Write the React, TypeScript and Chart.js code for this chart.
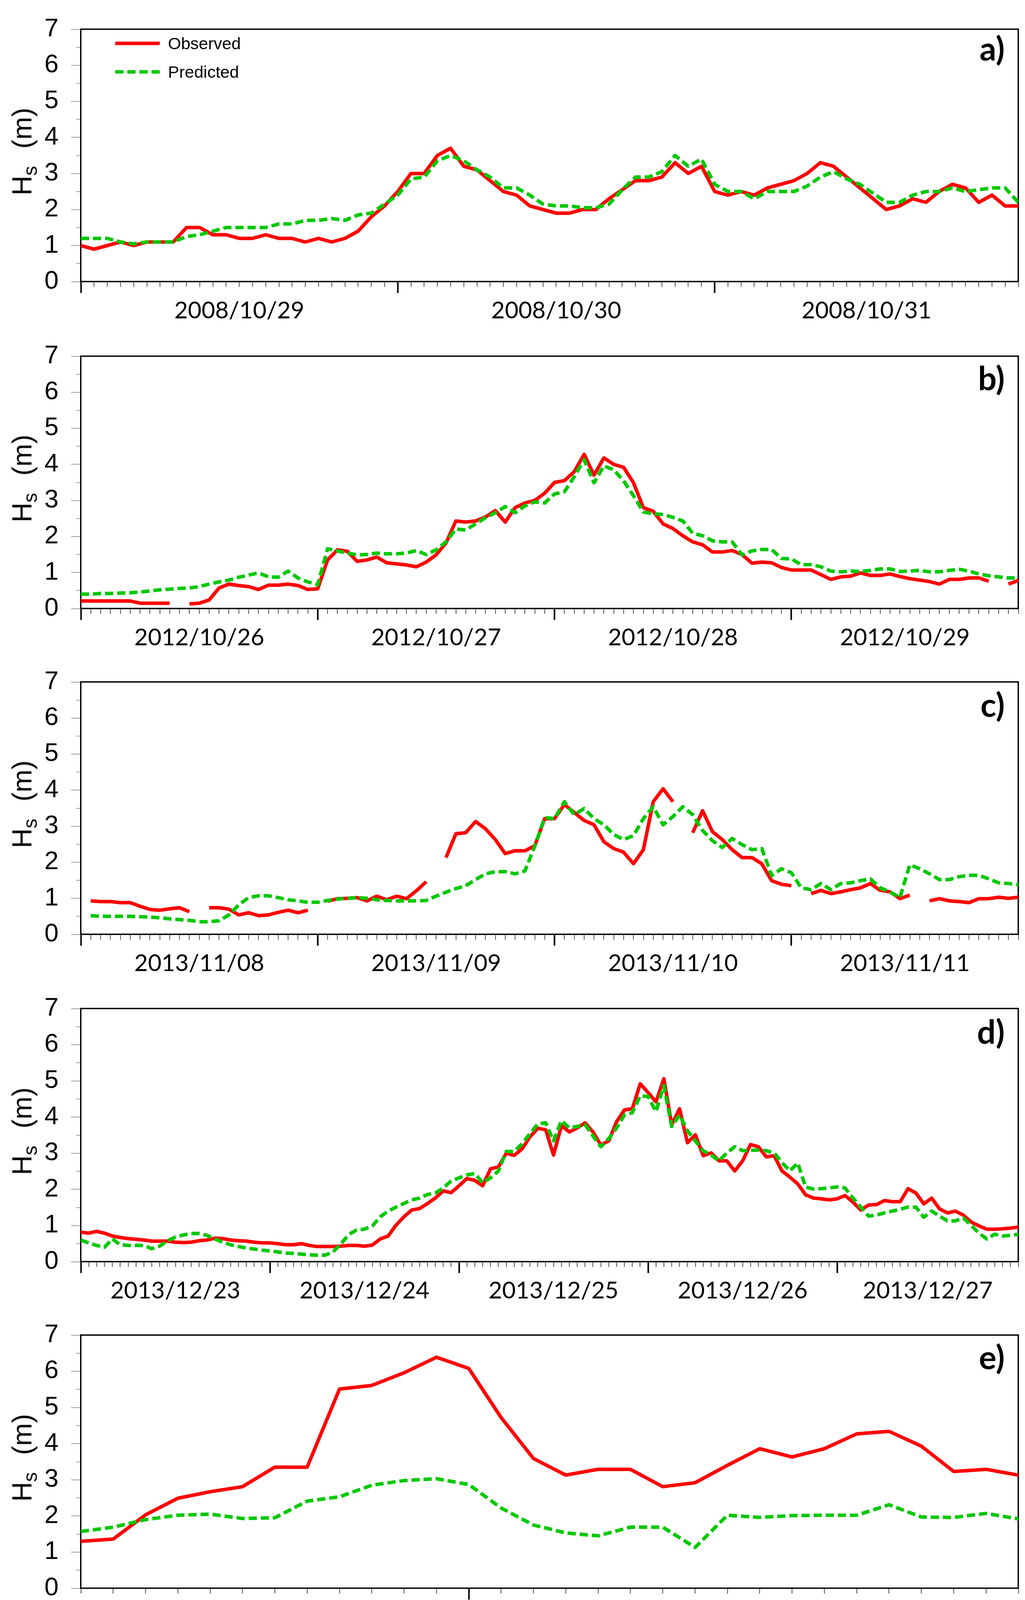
import React, { useEffect, useRef } from 'react';
import { Chart, registerables } from 'chart.js';

Chart.register(...registerables);

// ---------------- data (hourly Hs values, m) ----------------
// a) 2008/10/29 00:00 .. 2008/10/31 23:00
const obsA = [
  1.0, 0.9, 1.0, 1.1, 1.0, 1.1, 1.1, 1.1, 1.5, 1.5,
  1.3, 1.3, 1.2, 1.2, 1.3, 1.2, 1.2, 1.1, 1.2, 1.1,
  1.2, 1.4, 1.8, 2.1, 2.5, 3.0, 3.0, 3.5, 3.7, 3.2,
  3.1, 2.8, 2.5, 2.4, 2.1, 2.0, 1.9, 1.9, 2.0, 2.0,
  2.3, 2.55, 2.8, 2.8, 2.9, 3.3, 3.0, 3.2, 2.5, 2.4,
  2.5, 2.4, 2.6, 2.7, 2.8, 3.0, 3.3, 3.2, 2.9, 2.6,
  2.3, 2.0, 2.1, 2.3, 2.2, 2.5, 2.7, 2.6, 2.2, 2.4,
  2.1, 2.1,
];
const predA = [
  1.2, 1.2, 1.2, 1.1, 1.05, 1.1, 1.1, 1.1, 1.25, 1.3,
  1.4, 1.5, 1.5, 1.5, 1.5, 1.6, 1.6, 1.7, 1.7, 1.75,
  1.7, 1.85, 1.9, 2.15, 2.4, 2.85, 2.9, 3.35, 3.5, 3.35,
  3.1, 2.9, 2.6, 2.6, 2.4, 2.15, 2.1, 2.1, 2.05, 2.05,
  2.15, 2.55, 2.9, 2.9, 3.05, 3.5, 3.2, 3.4, 2.7, 2.5,
  2.5, 2.3, 2.5, 2.5, 2.5, 2.65, 2.9, 3.05, 2.85, 2.7,
  2.45, 2.2, 2.2, 2.4, 2.5, 2.5, 2.6, 2.5, 2.55, 2.6,
  2.6, 2.2,
];
const dayLabelsA = ['2008/10/29', '2008/10/30', '2008/10/31'];
const dayLabelPosA = [12, 36, 59.5];
const majorTicksA = [0, 24, 48];

// b) 2012/10/26 00:00 .. 2012/10/29 23:00
const obsB = [
  0.21, 0.21, 0.21, 0.21, 0.21, 0.21, 0.15, 0.15, 0.15, 0.15,
  null, 0.13, 0.15, 0.24, 0.57, 0.68, 0.64, 0.61, 0.53, 0.65,
  0.65, 0.68, 0.64, 0.53, 0.55, 1.35, 1.63, 1.59, 1.31, 1.35,
  1.43, 1.27, 1.24, 1.21, 1.16, 1.29, 1.49, 1.82, 2.43, 2.4,
  2.43, 2.54, 2.72, 2.4, 2.8, 2.93, 3.0, 3.2, 3.5, 3.55,
  3.8, 4.28, 3.7, 4.18, 4.0, 3.92, 3.49, 2.8, 2.7, 2.35,
  2.22, 2.02, 1.85, 1.77, 1.57, 1.57, 1.61, 1.5, 1.26, 1.29,
  1.27, 1.14, 1.07, 1.07, 1.07, 0.94, 0.81, 0.88, 0.9, 0.99,
  0.92, 0.92, 0.96, 0.89, 0.83, 0.79, 0.75, 0.68, 0.81, 0.81,
  0.85, 0.85, 0.76, null, 0.68, 0.78,
];
const predB = [
  0.4, 0.4, 0.42, 0.42, 0.43, 0.44, 0.46, 0.49, 0.52, 0.54,
  0.56, 0.57, 0.61, 0.68, 0.74, 0.79, 0.87, 0.93, 0.99, 0.88,
  0.87, 1.04, 0.85, 0.74, 0.66, 1.66, 1.6, 1.54, 1.49, 1.5,
  1.54, 1.52, 1.52, 1.54, 1.61, 1.5, 1.63, 1.85, 2.21, 2.18,
  2.35, 2.52, 2.66, 2.83, 2.66, 2.85, 2.96, 2.93, 3.18, 3.24,
  3.66, 4.13, 3.49, 3.96, 3.85, 3.54, 3.13, 2.68, 2.63, 2.61,
  2.53, 2.43, 2.09, 2.02, 1.88, 1.85, 1.85, 1.49, 1.6, 1.64,
  1.64, 1.39, 1.38, 1.22, 1.22, 1.16, 1.04, 1.02, 1.04, 1.03,
  1.06, 1.1, 1.1, 1.03, 1.04, 1.06, 1.02, 1.02, 1.06, 1.09,
  1.04, 0.96, 0.91, 0.88, 0.85, 0.85,
];
const dayLabelsB = ['2012/10/26', '2012/10/27', '2012/10/28', '2012/10/29'];
const dayLabelPosB = [12, 36, 60, 83.5];
const majorTicksB = [0, 24, 48, 72];

// c) 2013/11/08 00:00 .. 2013/11/11 23:00
const obsC = [
  null, 0.93, 0.91, 0.91, 0.88, 0.88, 0.78, 0.69, 0.67, 0.71,
  0.74, 0.63, null, 0.74, 0.74, 0.7, 0.54, 0.6, 0.52, 0.54,
  0.61, 0.67, 0.6, 0.67, null, 0.92, 0.99, 1.0, 1.02, 0.93,
  1.06, 0.96, 1.06, 0.99, 1.21, 1.46, null, 2.13, 2.79, 2.82,
  3.13, 2.93, 2.63, 2.24, 2.32, 2.32, 2.46, 3.21, 3.21, 3.6,
  3.38, 3.16, 3.04, 2.57, 2.38, 2.28, 1.96, 2.35, 3.68, 4.04,
  3.68, null, 2.82, 3.43, 2.85, 2.63, 2.35, 2.13, 2.13, 1.96,
  1.49, 1.39, 1.35, null, 1.13, 1.22, 1.13, 1.18, 1.24, 1.29,
  1.41, 1.22, 1.18, 0.99, 1.09, null, 0.93, 0.99, 0.93, 0.91,
  0.88, 0.99, 0.99, 1.03, 1.0, 1.03,
];
const predC = [
  null, 0.52, 0.5, 0.5, 0.5, 0.5, 0.49, 0.48, 0.46, 0.43,
  0.41, 0.39, 0.35, 0.35, 0.38, 0.54, 0.82, 1.02, 1.07, 1.07,
  1.02, 0.96, 0.93, 0.89, 0.89, 0.94, 0.98, 1.0, 1.02, 1.0,
  0.96, 0.94, 0.93, 0.93, 0.93, 0.94, 1.06, 1.17, 1.27, 1.35,
  1.52, 1.68, 1.74, 1.74, 1.68, 1.76, 2.45, 3.24, 3.21, 3.68,
  3.32, 3.49, 3.21, 3.04, 2.77, 2.63, 2.74, 3.21, 3.54, 3.04,
  3.27, 3.54, 3.32, 2.88, 2.6, 2.41, 2.66, 2.49, 2.35, 2.38,
  1.63, 1.82, 1.71, 1.29, 1.24, 1.41, 1.24, 1.41, 1.43, 1.49,
  1.54, 1.29, 1.18, 1.02, 1.93, 1.82, 1.68, 1.52, 1.52, 1.6,
  1.64, 1.64, 1.54, 1.43, 1.41, 1.38,
];
const dayLabelsC = ['2013/11/08', '2013/11/09', '2013/11/10', '2013/11/11'];
const dayLabelPosC = [12, 36, 60, 83.5];
const majorTicksC = [0, 24, 48, 72];

// d) 2013/12/23 00:00 .. 2013/12/27 23:00
const obsD = [
  0.82, 0.79, 0.84, 0.79, 0.71, 0.67, 0.64, 0.62, 0.6, 0.57,
  0.57, 0.57, 0.54, 0.53, 0.54, 0.58, 0.6, 0.65, 0.64, 0.6,
  0.58, 0.57, 0.54, 0.52, 0.52, 0.5, 0.47, 0.47, 0.5, 0.45,
  0.42, 0.42, 0.42, 0.43, 0.45, 0.45, 0.43, 0.46, 0.63, 0.71,
  1.01, 1.24, 1.43, 1.47, 1.61, 1.76, 1.96, 1.91, 2.1, 2.3,
  2.25, 2.1, 2.57, 2.62, 3.0, 2.94, 3.12, 3.45, 3.69, 3.65,
  2.95, 3.76, 3.59, 3.7, 3.84, 3.59, 3.23, 3.34, 3.87, 4.2,
  4.23, 4.92, 4.68, 4.42, 5.06, 3.79, 4.23, 3.29, 3.51, 2.93,
  3.01, 2.79, 2.79, 2.51, 2.79, 3.24, 3.18, 2.9, 2.93, 2.51,
  2.34, 2.15, 1.85, 1.76, 1.74, 1.71, 1.74, 1.83, 1.65, 1.43,
  1.57, 1.58, 1.69, 1.66, 1.66, 2.02, 1.9, 1.6, 1.76, 1.46,
  1.35, 1.4, 1.29, 1.1, 0.99, 0.9, 0.9, 0.91, 0.93, 0.96,
];
const predD = [
  0.6, 0.52, 0.45, 0.4, 0.63, 0.47, 0.45, 0.45, 0.45, 0.36,
  0.43, 0.58, 0.68, 0.74, 0.78, 0.78, 0.73, 0.63, 0.54, 0.47,
  0.42, 0.38, 0.35, 0.32, 0.3, 0.27, 0.24, 0.23, 0.21, 0.19,
  0.18, 0.18, 0.27, 0.49, 0.75, 0.88, 0.9, 0.99, 1.24, 1.4,
  1.51, 1.61, 1.71, 1.76, 1.86, 1.9, 2.04, 2.23, 2.32, 2.4,
  2.44, 2.18, 2.32, 2.51, 3.05, 3.05, 3.26, 3.54, 3.81, 3.84,
  3.34, 3.9, 3.7, 3.74, 3.79, 3.48, 3.18, 3.4, 3.7, 4.06,
  4.12, 4.59, 4.57, 4.15, 4.87, 3.74, 4.06, 3.62, 3.34, 3.07,
  2.95, 2.79, 3.01, 3.18, 3.07, 3.08, 3.09, 3.07, 3.01, 2.74,
  2.51, 2.73, 2.06, 2.01, 2.02, 2.04, 2.07, 2.04, 1.76, 1.51,
  1.26, 1.29, 1.35, 1.4, 1.45, 1.51, 1.51, 1.23, 1.4, 1.26,
  1.13, 1.13, 1.21, 1.01, 0.79, 0.63, 0.76, 0.71, 0.73, 0.76,
];
const dayLabelsD = ['2013/12/23', '2013/12/24', '2013/12/25', '2013/12/26', '2013/12/27'];
const dayLabelPosD = [12, 36, 60, 84, 107.5];
const majorTicksD = [0, 24, 48, 72, 96];

// e) 2018/10/29 .. 2018/10/30 (coarser steps)
const obsE = [
  1.3, 1.36, 2.03, 2.49, 2.67, 2.81, 3.35, 3.35, 5.51, 5.61,
  5.96, 6.39, 6.08, 4.72, 3.59, 3.13, 3.29, 3.29, 2.81, 2.92,
  3.4, 3.86, 3.63, 3.86, 4.27, 4.34, 3.93, 3.23, 3.29, 3.13,
];
const predE = [
  1.57, 1.69, 1.9, 2.02, 2.05, 1.93, 1.95, 2.41, 2.53, 2.85,
  2.98, 3.03, 2.87, 2.22, 1.75, 1.53, 1.45, 1.69, 1.69, 1.13,
  2.02, 1.96, 2.01, 2.02, 2.02, 2.31, 1.97, 1.96, 2.07, 1.92,
];
const dayLabelsE = ['2018/10/29', '2018/10/30'];
const dayLabelPosE = [6, 20.5];
const majorTicksE = [12];

const yTickValues = [0, 0.5, 1, 1.5, 2, 2.5, 3, 3.5, 4, 4.5, 5, 5.5, 6, 6.5, 7];
const seriesNames = ['Observed', 'Predicted'];
const panelLetters = ['a)', 'b)', 'c)', 'd)', 'e)'];

// ---------------- layout / style ----------------
const RED = '#ff0000';
const GREEN = '#00c800';
const CANVAS_W = 2624;
const PAD_TOP = 50;
const X_TICK_H = 30;
const X_LABEL_H = 85;
const Y_AXIS_W = 207;
const RIGHT_W = 17;
const SANS = "'Liberation Sans', Arial, sans-serif";
const DATEFONT = "Lato, 'Open Sans', sans-serif";

type Val = number | null;
type PanelDef = {
  obs: Val[];
  pred: Val[];
  labels: string[];
  labelPos: number[];
  majors: number[];
  plotTop: number;
  plotH: number;
  letter: string;
  letterDy: number;
  legend: boolean;
};

const PANELS: PanelDef[] = [
  { obs: obsA, pred: predA, labels: dayLabelsA, labelPos: dayLabelPosA, majors: majorTicksA, plotTop: 54, plotH: 667, letter: panelLetters[0], letterDy: 76, legend: true },
  { obs: obsB, pred: predB, labels: dayLabelsB, labelPos: dayLabelPosB, majors: majorTicksB, plotTop: 891, plotH: 667, letter: panelLetters[1], letterDy: 83, legend: false },
  { obs: obsC, pred: predC, labels: dayLabelsC, labelPos: dayLabelPosC, majors: majorTicksC, plotTop: 1725, plotH: 667, letter: panelLetters[2], letterDy: 85, legend: false },
  { obs: obsD, pred: predD, labels: dayLabelsD, labelPos: dayLabelPosD, majors: majorTicksD, plotTop: 2561, plotH: 669, letter: panelLetters[3], letterDy: 86, legend: false },
  { obs: obsE, pred: predE, labels: dayLabelsE, labelPos: dayLabelPosE, majors: majorTicksE, plotTop: 3397, plotH: 669, letter: panelLetters[4], letterDy: 83, legend: false },
];

function Panel({ def }: { def: PanelDef }) {
  const ref = useRef<HTMLCanvasElement | null>(null);
  const h = PAD_TOP + def.plotH + X_TICK_H + X_LABEL_H;

  useEffect(() => {
    if (!ref.current) return;
    const maxX = def.obs.length - 1;
    const isMajor = (c: any) => !!(c && c.tick && def.majors.includes(c.tick.value));
    const isInt = (c: any) => !!(c && c.tick && Number.isInteger(c.tick.value));
    const chart = new Chart(ref.current, {
      type: 'line',
      data: {
        datasets: [
          {
            label: seriesNames[0],
            data: def.obs.map((v, i) => ({ x: i, y: v })) as any,
            borderColor: RED,
            backgroundColor: RED,
            borderWidth: 9,
            pointRadius: 0,
            tension: 0,
            fill: false,
            spanGaps: false,
            borderJoinStyle: 'round',
            order: 2,
            xAxisID: 'x',
            yAxisID: 'y',
          },
          {
            label: seriesNames[1],
            data: def.pred.map((v, i) => ({ x: i, y: v })) as any,
            borderColor: GREEN,
            backgroundColor: GREEN,
            borderWidth: 9,
            borderDash: [21, 10],
            pointRadius: 0,
            tension: 0,
            fill: false,
            spanGaps: false,
            borderJoinStyle: 'round',
            order: 1,
            xAxisID: 'x',
            yAxisID: 'y',
          },
        ],
      },
      options: {
        animation: false,
        responsive: false,
        devicePixelRatio: 1,
        events: [],
        layout: { padding: 0 },
        plugins: { legend: { display: false }, tooltip: { enabled: false }, title: { display: false } },
        scales: {
          x: {
            type: 'linear',
            position: 'bottom',
            weight: 0,
            min: 0,
            max: maxX,
            afterBuildTicks: (s: any) => {
              s.ticks = def.obs.map((_, i) => ({ value: i }));
            },
            ticks: { display: false, autoSkip: false },
            grid: {
              display: true,
              drawOnChartArea: false,
              drawTicks: true,
              tickLength: 29,
              tickColor: (c: any) => (isMajor(c) ? '#000' : '#4a4a4a'),
              tickWidth: (c: any) => (isMajor(c) ? 4 : 2),
              tickBorderDash: (c: any) => (isMajor(c) ? [] : [12, 200]),
            },
            border: { display: true, color: '#000', width: 3.5 },
            afterFit: (s: any) => {
              s.height = X_TICK_H;
            },
          },
          xl: {
            type: 'linear',
            position: 'bottom',
            weight: 1,
            min: 0,
            max: maxX,
            afterBuildTicks: (s: any) => {
              s.ticks = def.labelPos.map((v) => ({ value: v }));
            },
            ticks: {
              autoSkip: false,
              maxRotation: 0,
              minRotation: 0,
              padding: 9,
              color: '#000',
              font: { family: DATEFONT, size: 60 },
              callback: (_v: any, i: number) => def.labels[i],
            },
            grid: { display: false, drawTicks: false, drawOnChartArea: false },
            border: { display: false },
            afterFit: (s: any) => {
              s.height = X_LABEL_H;
            },
          },
          x2: {
            type: 'linear',
            position: 'top',
            min: 0,
            max: 1,
            ticks: { display: false },
            grid: { display: true, drawOnChartArea: false, drawTicks: false },
            border: { display: true, color: '#000', width: 3.5 },
            afterFit: (s: any) => {
              s.height = PAD_TOP;
            },
          },
          y: {
            type: 'linear',
            position: 'left',
            min: 0,
            max: 7,
            afterBuildTicks: (s: any) => {
              s.ticks = yTickValues.map((v) => ({ value: v }));
            },
            ticks: {
              autoSkip: false,
              padding: 32,
              color: '#000',
              font: { family: SANS, size: 65 },
              callback: (v: any) => (Number.isInteger(v) ? String(v) : ''),
            },
            grid: {
              display: true,
              drawOnChartArea: false,
              drawTicks: true,
              tickLength: 25,
              tickColor: '#9a9a9a',
              tickWidth: 2,
              tickBorderDash: (c: any) => (isInt(c) ? [] : [12, 13]),
              tickBorderDashOffset: (c: any) => (isInt(c) ? 0 : 12),
            },
            border: { display: true, color: '#000', width: 3.5 },
            afterFit: (s: any) => {
              s.width = Y_AXIS_W;
            },
          },
          y2: {
            type: 'linear',
            position: 'right',
            min: 0,
            max: 1,
            ticks: { display: false },
            grid: { display: true, drawOnChartArea: false, drawTicks: false },
            border: { display: true, color: '#000', width: 3.5 },
            afterFit: (s: any) => {
              s.width = RIGHT_W;
            },
          },
        },
      } as any,
    });
    return () => chart.destroy();
  }, [def]);

  const centerY = def.plotTop + def.plotH / 2;

  return (
    <>
      <canvas
        ref={ref}
        width={CANVAS_W}
        height={h}
        style={{ position: 'absolute', left: 0, top: def.plotTop - PAD_TOP, width: CANVAS_W, height: h }}
      />
      {/* y-axis title */}
      <div
        style={{
          position: 'absolute',
          left: 60,
          top: centerY,
          transform: 'translate(-50%, -50%) rotate(-90deg)',
          fontFamily: SANS,
          fontSize: 70,
          lineHeight: '70px',
          whiteSpace: 'nowrap',
          color: '#000',
        }}
      >
        H<span style={{ fontSize: 50, position: 'relative', top: 14 }}>s</span>
        <span style={{ marginLeft: 44 }}>(m)</span>
      </div>
      {/* panel letter */}
      <div
        style={{
          position: 'absolute',
          right: 52,
          top: def.plotTop + def.letterDy - 49,
          fontFamily: DATEFONT,
          fontWeight: 'bold',
          fontSize: 84,
          lineHeight: '84px',
          color: '#000',
          whiteSpace: 'nowrap',
        }}
      >
        {def.letter}
      </div>
      {def.legend && (
        <>
          <svg
            width={130}
            height={100}
            style={{ position: 'absolute', left: 290, top: def.plotTop + 46 }}
          >
            <line x1={5} y1={11} x2={119} y2={11} stroke={RED} strokeWidth={9} />
            <line x1={5} y1={84} x2={119} y2={84} stroke={GREEN} strokeWidth={9} strokeDasharray="21 10" />
          </svg>
          <div
            style={{
              position: 'absolute',
              left: 430,
              top: def.plotTop + 36,
              fontFamily: SANS,
              fontSize: 43,
              lineHeight: '43px',
              color: '#000',
              whiteSpace: 'nowrap',
            }}
          >
            {seriesNames[0]}
          </div>
          <div
            style={{
              position: 'absolute',
              left: 430,
              top: def.plotTop + 109,
              fontFamily: SANS,
              fontSize: 43,
              lineHeight: '43px',
              color: '#000',
              whiteSpace: 'nowrap',
            }}
          >
            {seriesNames[1]}
          </div>
        </>
      )}
    </>
  );
}

export default function App() {
  return (
    <div
      style={{
        position: 'absolute',
        left: 0,
        top: 0,
        width: 2624,
        height: 4266,
        background: '#fff',
        overflow: 'hidden',
      }}
    >
      {PANELS.map((p, i) => (
        <Panel key={i} def={p} />
      ))}
      <div
        style={{
          position: 'absolute',
          left: 1337,
          top: 4181,
          transform: 'translateX(-50%)',
          fontFamily: DATEFONT,
          fontSize: 71,
          lineHeight: '71px',
          color: '#000',
          whiteSpace: 'nowrap',
        }}
      >
        Time
      </div>
    </div>
  );
}
